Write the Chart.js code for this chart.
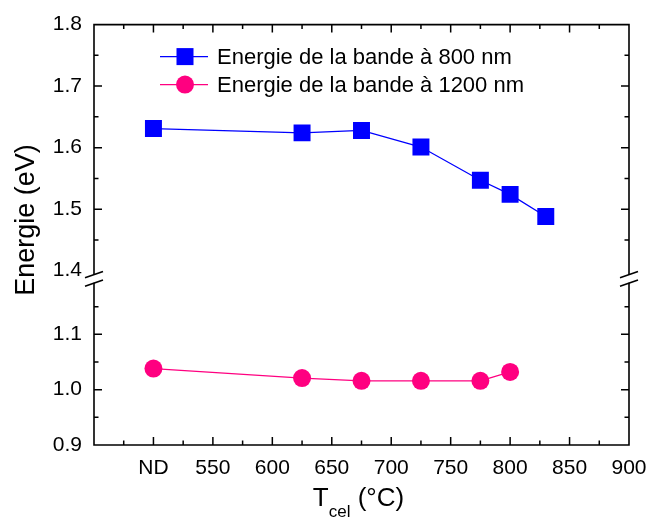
<!DOCTYPE html>
<html>
<head>
<meta charset="utf-8">
<script src="https://cdn.jsdelivr.net/npm/chart.js@4.4.1/dist/chart.umd.min.js"></script>
<style>
  html, body { margin: 0; padding: 0; background: #fff; }
  #chart { display: block; }
</style>
</head>
<body>
<canvas id="chart" width="647" height="521"></canvas>
<script>
// T_cel (°C) - "ND" is plotted at 500
const tcel800 = [500, 625, 675, 725, 775, 800, 830];
const energie800 = [1.631, 1.624, 1.628, 1.601, 1.547, 1.524, 1.488];
const tcel1200 = [500, 625, 675, 725, 775, 800];
const energie1200 = [1.038, 1.021, 1.016, 1.016, 1.016, 1.032];

const xTicks = [500, 550, 600, 650, 700, 750, 800, 850, 900];
const xTickLabels = ["ND", "550", "600", "650", "700", "750", "800", "850", "900"];
const yTicksTop = [1.4, 1.5, 1.6, 1.7, 1.8];
const yTicksBottom = [0.9, 1.0, 1.1];

const fam = 'Arial, "Liberation Sans", sans-serif';
Chart.defaults.font.family = fam;
Chart.defaults.color = "#000";

function hasTick(list, v) {
  return list.some((t) => Math.abs(t - v) < 1e-6);
}

// frame with inner ticks, axis break, legend and axis titles
const decor = {
  id: "decor",
  afterDraw(chart) {
    const ctx = chart.ctx;
    const { left, right, top, bottom } = chart.chartArea;
    const sx = chart.scales.x;
    const yt = chart.scales.yTop;
    const yb = chart.scales.yBottom;
    const brk = yt.bottom;

    ctx.save();
    ctx.strokeStyle = "#000";
    ctx.lineWidth = 1.6;
    ctx.beginPath();
    ctx.moveTo(left, brk + 4);
    ctx.lineTo(left, top);
    ctx.lineTo(right, top);
    ctx.lineTo(right, brk + 4);
    ctx.moveTo(left, brk + 12);
    ctx.lineTo(left, bottom);
    ctx.lineTo(right, bottom);
    ctx.lineTo(right, brk + 12);
    ctx.stroke();

    // break marks
    [left, right].forEach((bx) => {
      [brk + 4, brk + 12.5].forEach((by) => {
        ctx.beginPath();
        ctx.moveTo(bx - 9, by + 3.2);
        ctx.lineTo(bx + 9, by - 3.2);
        ctx.stroke();
      });
    });

    // ticks
    ctx.lineWidth = 1.5;
    ctx.beginPath();
    for (let v = 475; v < 900; v += 25) {
      const len = v % 50 === 0 ? 8 : 4.5;
      const px = sx.getPixelForValue(v);
      ctx.moveTo(px, bottom);
      ctx.lineTo(px, bottom - len);
      ctx.moveTo(px, top);
      ctx.lineTo(px, top + len);
    }
    const yTickSet = [
      [yt, [1.45, 1.5, 1.55, 1.6, 1.65, 1.7, 1.75]],
      [yb, [0.95, 1.0, 1.05, 1.1, 1.15]],
    ];
    yTickSet.forEach(([scale, vals]) => {
      vals.forEach((v) => {
        const major = Math.abs(Math.round(v * 10) - v * 10) < 1e-6;
        const len = major ? 8 : 4.5;
        const py = scale.getPixelForValue(v);
        ctx.moveTo(left, py);
        ctx.lineTo(left + len, py);
        ctx.moveTo(right, py);
        ctx.lineTo(right - len, py);
      });
    });
    ctx.stroke();

    // legend
    const lx = left + 66;
    const rows = [top + 32, top + 60];
    chart.data.datasets.forEach((ds, i) => {
      const y = rows[i];
      ctx.strokeStyle = ds.borderColor;
      ctx.lineWidth = ds.borderWidth;
      ctx.beginPath();
      ctx.moveTo(lx, y);
      ctx.lineTo(lx + 48, y);
      ctx.stroke();
      ctx.fillStyle = ds.backgroundColor;
      const cx = lx + 25;
      if (ds.pointStyle === "rect") {
        ctx.fillRect(cx - 8.5, y - 8.5, 17, 17);
      } else {
        ctx.beginPath();
        ctx.arc(cx, y, 9, 0, Math.PI * 2);
        ctx.fill();
      }
      ctx.fillStyle = "#000";
      ctx.font = "22px " + fam;
      ctx.textAlign = "left";
      ctx.textBaseline = "middle";
      ctx.fillText(ds.label, lx + 57, y + 1);
    });

    // y title
    ctx.save();
    ctx.translate(27, 220);
    ctx.rotate(-Math.PI / 2);
    ctx.font = "27px " + fam;
    ctx.textAlign = "center";
    ctx.textBaseline = "middle";
    ctx.fillText("Energie (eV)", 0, 0);
    ctx.restore();

    // x title with subscript
    ctx.textAlign = "left";
    ctx.textBaseline = "alphabetic";
    ctx.font = "26px " + fam;
    const wT = ctx.measureText("T").width;
    const wR = ctx.measureText(" (°C)").width;
    ctx.font = "17px " + fam;
    const wS = ctx.measureText("cel").width;
    let tx = (left + right) / 2 - 3 - (wT + wS + wR) / 2;
    ctx.font = "26px " + fam;
    ctx.fillText("T", tx, 506);
    ctx.font = "17px " + fam;
    ctx.fillText("cel", tx + wT, 517);
    ctx.font = "26px " + fam;
    ctx.fillText(" (°C)", tx + wT + wS, 506);
    ctx.restore();
  },
};

const ctx = document.getElementById("chart").getContext("2d");

const chartData = {
  datasets: [
    {
      label: "Energie de la bande à 800 nm",
      data: tcel800.map((t, i) => ({ x: t, y: energie800[i] })),
      yAxisID: "yTop",
      borderColor: "#0000ff",
      backgroundColor: "#0000ff",
      borderWidth: 1.3,
      pointStyle: "rect",
      pointRadius: 12,
      pointHoverRadius: 12,
      pointBorderWidth: 0,
      tension: 0,
    },
    {
      label: "Energie de la bande à 1200 nm",
      data: tcel1200.map((t, i) => ({ x: t, y: energie1200[i] })),
      yAxisID: "yBottom",
      borderColor: "#ff0080",
      backgroundColor: "#ff0080",
      borderWidth: 1.3,
      pointStyle: "circle",
      pointRadius: 9,
      pointHoverRadius: 9,
      pointBorderWidth: 0,
      tension: 0,
    },
  ],
};

const chartOptions = {
  responsive: false,
  animation: false,
  devicePixelRatio: 1,
  layout: { padding: { left: 0, top: 23, right: 18, bottom: 0 } },
  plugins: {
    legend: { display: false },
    tooltip: { enabled: false },
  },
  scales: {
    x: {
      type: "linear",
      min: 450,
      max: 900,
      grid: { display: false, drawTicks: false },
      border: { display: false },
      ticks: {
        stepSize: 50,
        padding: 11,
        font: { size: 21 },
        maxRotation: 0,
        autoSkip: false,
        callback: (v) => {
          const i = xTicks.indexOf(v);
          return i >= 0 ? xTickLabels[i] : "";
        },
      },
      afterFit: (s) => {
        s.height = 76;
        s.paddingLeft = 0;
        s.paddingRight = 0;
      },
    },
    // lower segment of the broken axis (declared first so it sits below)
    yBottom: {
      type: "linear",
      position: "left",
      stack: "energie",
      stackWeight: 175,
      min: 0.9,
      max: 1.215,
      grid: { display: false, drawTicks: false },
      border: { display: false },
      ticks: {
        stepSize: 0.1,
        padding: 12,
        font: { size: 21 },
        callback: (v) => (hasTick(yTicksBottom, v) ? v.toFixed(1) : ""),
      },
      afterFit: (s) => { s.width = 94; },
    },
    yTop: {
      type: "linear",
      position: "left",
      stack: "energie",
      stackWeight: 247,
      min: 1.4,
      max: 1.8,
      grid: { display: false, drawTicks: false },
      border: { display: false },
      ticks: {
        stepSize: 0.1,
        padding: 12,
        font: { size: 21 },
        callback: (v) => (hasTick(yTicksTop, v) ? v.toFixed(1) : ""),
      },
      afterFit: (s) => { s.width = 94; },
    },
  },
};

const energyChart = new Chart(ctx, {
  type: "line",
  data: chartData,
  options: chartOptions,
  plugins: [decor],
});
</script>
</body>
</html>
